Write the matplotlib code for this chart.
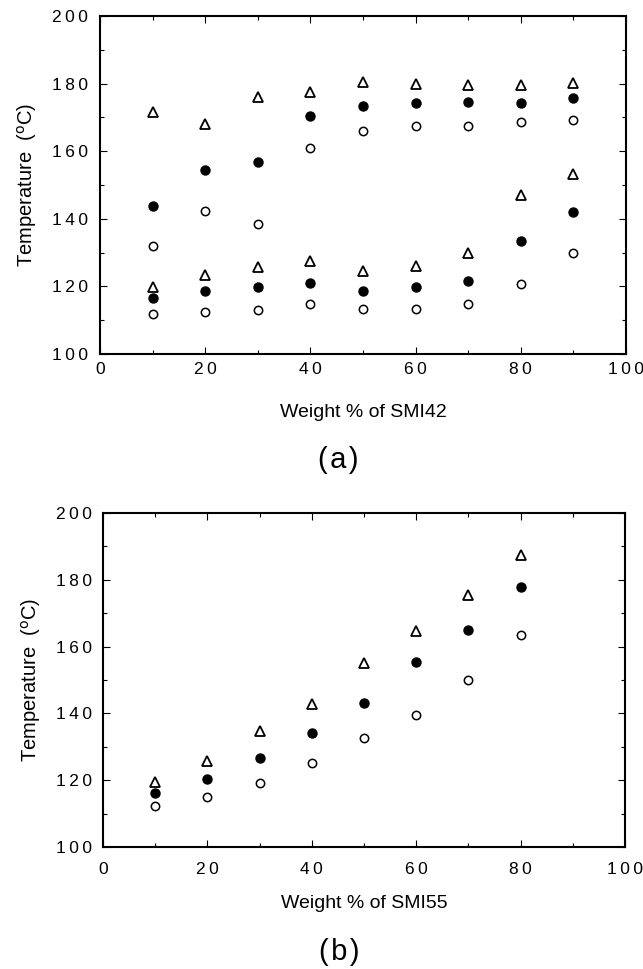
import matplotlib
matplotlib.use("Agg")
import matplotlib.pyplot as plt
from matplotlib.ticker import MultipleLocator, FuncFormatter

plt.rcParams['font.family'] = ['Liberation Sans', 'DejaVu Sans']

# (a) blends with SMI42: two sets of transitions per composition
wt_a = [10, 20, 30, 40, 50, 60, 70, 80, 90]
tri_hi_a = [171.5, 167.9, 175.9, 177.6, 180.4, 179.8, 179.6, 179.6, 180.3]
dot_hi_a = [143.8, 154.4, 156.7, 170.4, 173.5, 174.4, 174.5, 174.4, 175.7]
ring_hi_a = [132.0, 142.4, 138.6, 160.8, 166.0, 167.6, 167.6, 168.5, 169.1]
tri_lo_a = [119.8, 123.5, 125.8, 127.4, 124.7, 125.9, 130.0, 147.1, 153.2]
dot_lo_a = [116.7, 118.7, 119.8, 121.0, 118.7, 119.8, 121.5, 133.5, 142.0]
ring_lo_a = [111.8, 112.3, 113.1, 114.8, 113.4, 113.4, 114.8, 120.8, 130.0]

# (b) blends with SMI55
wt_b = [10, 20, 30, 40, 50, 60, 70, 80]
tri_b = [119.5, 125.8, 134.7, 142.9, 155.2, 164.8, 175.5, 187.3]
dot_b = [116.3, 120.4, 126.6, 134.0, 143.2, 155.3, 165.0, 177.7]
ring_b = [112.3, 115.1, 119.3, 125.2, 132.7, 139.5, 150.0, 163.5]

W, H = 643, 969
fig = plt.figure(figsize=(W / 100, H / 100), dpi=100)
ax1 = fig.add_axes([100 / W, 1 - 354 / H, 526 / W, 338 / H])
ax2 = fig.add_axes([103 / W, 1 - 847 / H, 522 / W, 334 / H])

# spaced-out digits like the original typesetting
spaced = FuncFormatter(lambda v, p: '\u2009'.join(str(int(round(v)))))

def style(ax, xlabel, xpad, ypad, xlabelpad):
    ax.set_xlim(0, 100)
    ax.set_ylim(100, 200)
    ax.xaxis.set_major_locator(MultipleLocator(20))
    ax.xaxis.set_minor_locator(MultipleLocator(10))
    ax.yaxis.set_major_locator(MultipleLocator(20))
    ax.yaxis.set_minor_locator(MultipleLocator(10))
    ax.xaxis.set_major_formatter(spaced)
    ax.yaxis.set_major_formatter(spaced)
    ax.tick_params(which='both', direction='in', top=True, right=True, labelsize=12.5)
    ax.tick_params(axis='x', pad=xpad)
    ax.tick_params(axis='y', pad=ypad)
    ax.tick_params(which='major', length=5, width=0.8)
    ax.tick_params(which='minor', length=3, width=0.8)
    for s in ax.spines.values():
        s.set_linewidth(1.5)
    ax.set_xlabel(xlabel, fontsize=14, labelpad=xlabelpad)
    ax.set_ylabel('Temperature  ($^{\\mathrm{o}}$C)', fontsize=14.5, labelpad=9)

tri = dict(marker='^', ms=6.5, mfc='white', mec='black', mew=1.3, ls='none')
dot = dict(marker='o', ms=6.5, mfc='black', mec='black', ls='none')
ring = dict(marker='o', ms=6, mfc='white', mec='black', mew=1.1, ls='none')

ax1.plot(wt_a, tri_hi_a, **tri)
ax1.plot(wt_a, tri_lo_a, **tri)
ax1.plot(wt_a, dot_hi_a, **dot)
ax1.plot(wt_a, dot_lo_a, **dot)
ax1.plot(wt_a, ring_hi_a, **ring)
ax1.plot(wt_a, ring_lo_a, **ring)
style(ax1, 'Weight % of SMI42', xpad=6, ypad=9, xlabelpad=19)

ax2.plot(wt_b, tri_b, **tri)
ax2.plot(wt_b, dot_b, **dot)
ax2.plot(wt_b, ring_b, **ring)
style(ax2, 'Weight % of SMI55', xpad=11, ypad=8, xlabelpad=13)

fig.text(338 / W, 1 - 460 / H, '(\u200aa\u200a)', fontsize=21, ha='center', va='center')
fig.text(339 / W, 1 - 952 / H, '(\u200ab\u200a)', fontsize=21, ha='center', va='center')

fig.savefig('out.png', dpi=100)
